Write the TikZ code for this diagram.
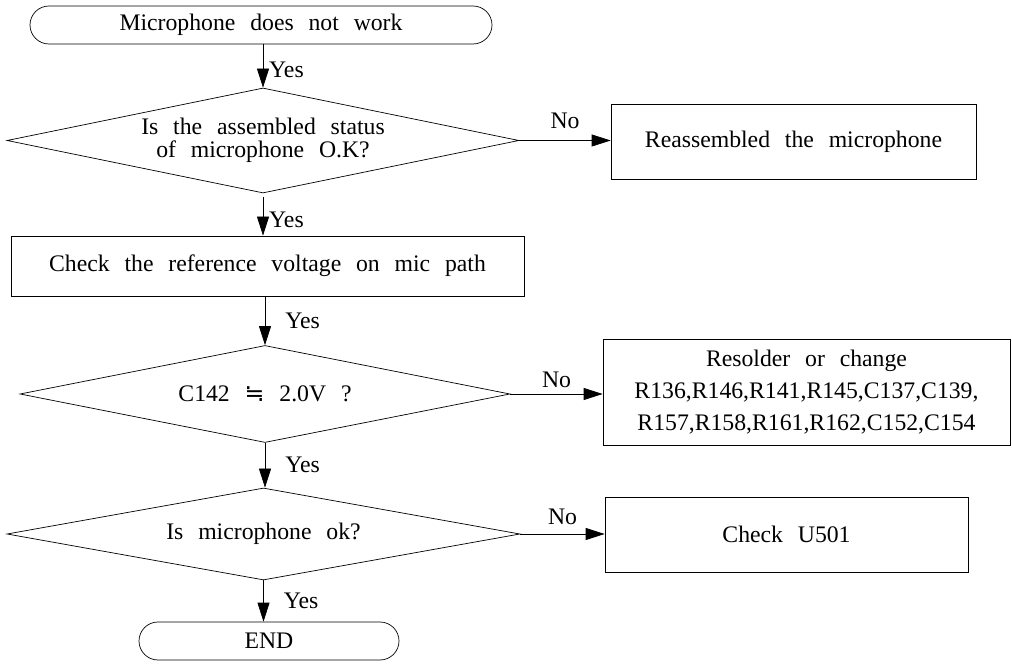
\documentclass[tikz,border=0pt]{standalone}
\usepackage{fontspec}
\setmainfont[WordSpace=2.5]{Liberation Serif}
\newfontfamily\symfont{DejaVu Sans}
\usetikzlibrary{shapes.geometric,arrows.meta}
\tikzset{>={Triangle[length=3.8mm,width=2.4mm]}}
\tikzset{
  txt/.style={font=\fontsize{13.5}{16}\selectfont},
  term/.style={txt,draw,rounded corners=0.38cm,minimum height=0.76cm},
  proc/.style={txt,draw,align=center},
  decide/.style={txt,draw,diamond,aspect=6,inner sep=0pt,align=center},
  lbl/.style={txt}
}

\begin{document}
\begin{tikzpicture}
          \useasboundingbox (0,0) rectangle (20.24,-13.32);
          % nodes
          \node[term,minimum width=9.24cm] (start) at (5.22,-0.5) {Microphone does not work};
          \node[decide,minimum width=10.24cm,minimum height=2.1cm] (asm) at (5.26,-2.81)
            {Is the assembled status\\[-3pt] of microphone O.K?};
          \node[proc,minimum width=7.3cm,minimum height=1.5cm] (reasm) at (15.87,-2.83) {Reassembled the microphone};
          \node[proc,minimum width=10.26cm,minimum height=1.2cm] (ref) at (5.35,-5.32) {Check the reference voltage on mic path};
          \node[decide,minimum width=9.8cm,minimum height=1.94cm] (volt) at (5.3,-7.88) {C142 {\symfont ≒} 2.0V ?};
          \node[proc,minimum width=8.14cm,minimum height=2.12cm] (resol) at (16.13,-7.84)
            {Resolder or change\\[2pt] R136,R146,R141,R145,C137,C139,\\[2pt] R157,R158,R161,R162,C152,C154};
          \node[decide,minimum width=10.26cm,minimum height=1.84cm] (mic) at (5.27,-10.68) {Is microphone ok?};
          \node[proc,minimum width=7.26cm,minimum height=1.5cm] (u501) at (15.73,-10.69) {Check U501};
          \node[term,minimum width=5.2cm] (end) at (5.38,-12.82) {END};
          % connectors
          \begin{scope}[->]
            \draw (start.south -| asm.north) -- (asm.north) node[lbl,midway,right,yshift=-2pt]{Yes};
            \draw ([yshift=-0.08cm]asm.south) -- (asm.south |- ref.north) node[lbl,midway,right,yshift=-2pt]{Yes};
            \draw (ref.south -| volt.north) -- (volt.north) node[lbl,midway,right,xshift=8pt]{Yes};
            \draw (volt.south) -- (volt.south |- mic.north) node[lbl,midway,right,xshift=8pt]{Yes};
            \draw (mic.south) -- (mic.south |- end.north) node[lbl,midway,right,xshift=8pt]{Yes};
            \draw (asm.east) -- (reasm.west |- asm.east) node[lbl,midway,above,yshift=3pt]{No};
            \draw (volt.east) -- (resol.west |- volt.east) node[lbl,midway,above]{No};
            \draw (mic.east) -- (u501.west |- mic.east) node[lbl,midway,above,yshift=2pt]{No};
          \end{scope}
        \end{tikzpicture}
\end{document}
